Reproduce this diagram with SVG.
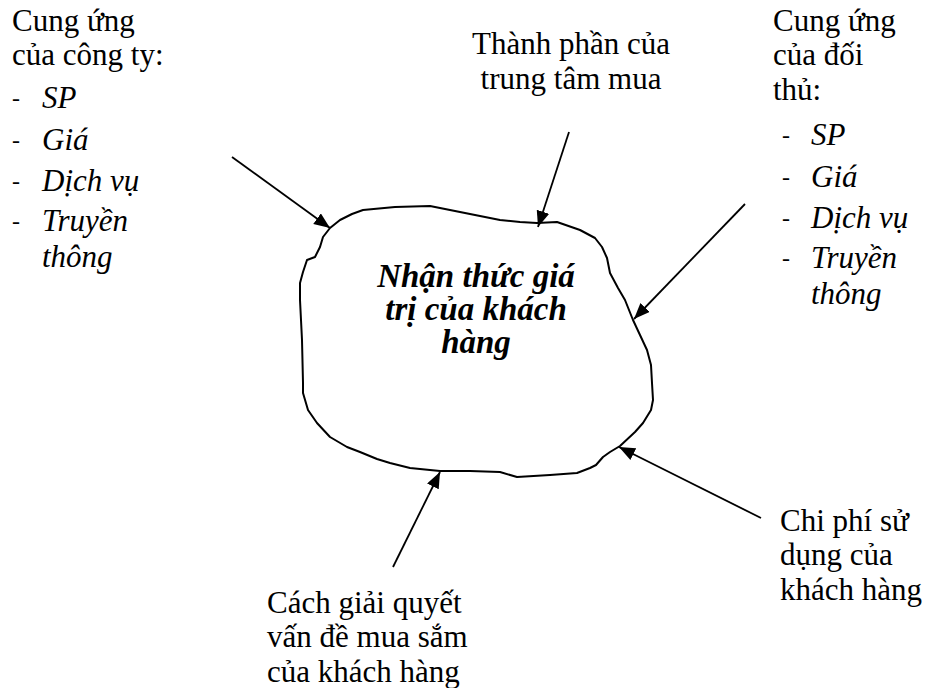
<svg xmlns="http://www.w3.org/2000/svg" width="930" height="688" viewBox="0 0 930 688">
<style>
.t{font-family:"Liberation Serif","Times New Roman",serif;font-size:31px;fill:#000}
.i{font-style:italic}
.c{font-family:"Liberation Serif","Times New Roman",serif;font-size:33px;font-weight:bold;font-style:italic;fill:#000}
.d{font-family:"Liberation Serif","Times New Roman",serif;font-size:24px;fill:#000}
.ln{stroke:#000;stroke-width:1.8;fill:none;marker-end:url(#ah)}
</style>
<defs>
<marker id="ah" markerUnits="userSpaceOnUse" markerWidth="18" markerHeight="14" refX="16" refY="6.5" orient="auto">
<path d="M0,0 L16,6.5 L0,13 z" fill="#000"/>
</marker>
<clipPath id="rclip"><rect x="760" y="0" width="170" height="313"/></clipPath>
</defs>
<rect width="930" height="688" fill="#fff"/>
<g id="center">
<path d="M330,228 L340,220 L352,214 L363,210 L395,207 L430,206 L465,213 L500,220 L520,222 L537,223 L557,222 L580,230 L595,238 L602,247 L607,258 L610,273 L618,288 L625,300 L633,320 L640,335 L647,350 L651,365 L652,383 L653,400 L651,410 L643,423 L635,432 L620,446 L610,452 L603,457 L596,465 L590,468 L577,473 L550,475 L517,477 L500,472 L470,471 L440,471 L410,468 L390,463 L377,459 L360,452 L347,447 L330,437 L317,423 L308,410 L303,393 L303,383 L302,340 L300,300 L300,283 L303,272 L307,260 L315,257 L320,247 L323,237 Z" fill="none" stroke="#000" stroke-width="2" stroke-linejoin="round"/>
<text class="c" text-anchor="middle"><tspan x="476" y="287">Nhận thức giá</tspan><tspan x="476" y="320">trị của khách</tspan><tspan x="476" y="353">hàng</tspan></text>
</g>
<g id="company">
<text class="t"><tspan x="12" y="31">Cung ứng</tspan><tspan x="12" y="65">của công ty:</tspan></text>
<text class="d"><tspan x="12" y="106">-</tspan><tspan x="12" y="148">-</tspan><tspan x="12" y="189">-</tspan><tspan x="12" y="229">-</tspan></text>
<text class="t i"><tspan x="42" y="108">SP</tspan><tspan x="42" y="150">Giá</tspan><tspan x="42" y="191">Dịch vụ</tspan><tspan x="42" y="231">Truyền</tspan><tspan x="42" y="267">thông</tspan></text>
</g>
<g id="competitor">
<text class="t"><tspan x="773" y="31">Cung ứng</tspan><tspan x="773" y="65">của đối</tspan><tspan x="773" y="100">thủ:</tspan></text>
<text class="d"><tspan x="782" y="143">-</tspan><tspan x="782" y="185">-</tspan><tspan x="782" y="226">-</tspan><tspan x="782" y="266">-</tspan></text>
<text class="t i" clip-path="url(#rclip)"><tspan x="811" y="145">SP</tspan><tspan x="811" y="187">Giá</tspan><tspan x="811" y="228">Dịch vụ</tspan><tspan x="811" y="268">Truyền</tspan><tspan x="811" y="304">thông</tspan></text>
</g>
<g id="center-buy">
<text class="t" text-anchor="middle"><tspan x="571" y="54">Thành phần của</tspan><tspan x="571" y="89">trung tâm mua</tspan></text>
</g>
<g id="usage-cost">
<text class="t"><tspan x="780" y="531">Chi phí sử</tspan><tspan x="780" y="565">dụng của</tspan><tspan x="780" y="600">khách hàng</tspan></text>
</g>
<g id="solution">
<text class="t"><tspan x="267" y="613">Cách giải quyết</tspan><tspan x="267" y="647">vấn đề mua sắm</tspan><tspan x="267" y="682">của khách hàng</tspan></text>
</g>
<g id="connectors">
<line class="ln" x1="232" y1="157" x2="330" y2="228"/>
<line class="ln" x1="569" y1="132" x2="538" y2="227"/>
<line class="ln" x1="745" y1="204" x2="634" y2="319"/>
<line class="ln" x1="761" y1="518" x2="619" y2="447"/>
<line class="ln" x1="393" y1="567" x2="440" y2="472"/>
</g>
</svg>
